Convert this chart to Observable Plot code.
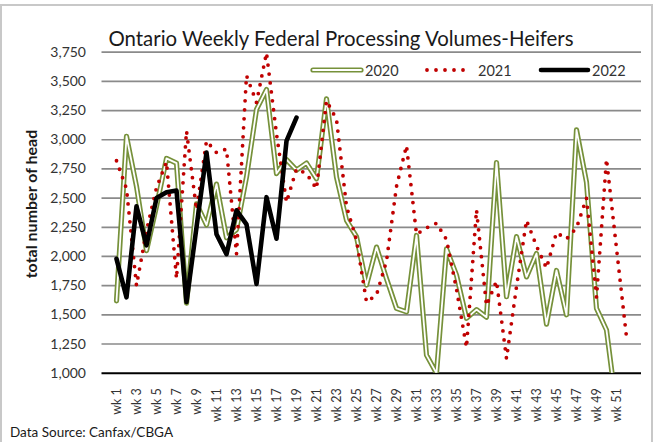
<!DOCTYPE html>
<html>
<head>
<meta charset="utf-8">
<script src="https://cdn.jsdelivr.net/npm/d3@7"></script>
<script src="https://cdn.jsdelivr.net/npm/@observablehq/plot@0.6"></script>
<style>
html, body { margin: 0; padding: 0; background: #fff; }
#chart { position: absolute; left: 0; top: 0; width: 658px; height: 442px; overflow: hidden; }
</style>
</head>
<body>
<div id="chart"></div>
<script>
const weeks = ["wk 1","wk 2","wk 3","wk 4","wk 5","wk 6","wk 7","wk 8","wk 9","wk 10",
  "wk 11","wk 12","wk 13","wk 14","wk 15","wk 16","wk 17","wk 18","wk 19","wk 20",
  "wk 21","wk 22","wk 23","wk 24","wk 25","wk 26","wk 27","wk 28","wk 29","wk 30",
  "wk 31","wk 32","wk 33","wk 34","wk 35","wk 36","wk 37","wk 38","wk 39","wk 40",
  "wk 41","wk 42","wk 43","wk 44","wk 45","wk 46","wk 47","wk 48","wk 49","wk 50",
  "wk 51","wk 52"];
const tickLabels = ["wk 1","wk 3","wk 5","wk 7","wk 9","wk 11","wk 13","wk 15","wk 17","wk 19",
  "wk 21","wk 23","wk 25","wk 27","wk 29","wk 31","wk 33","wk 35","wk 37","wk 39",
  "wk 41","wk 43","wk 45","wk 47","wk 49","wk 51"];
const yTicks = [1000,1250,1500,1750,2000,2250,2500,2750,3000,3250,3500,3750];
const values2020 = [1620,3030,2600,2050,2430,2840,2800,1600,2450,2270,
  2620,2160,2230,2680,3260,3430,2710,2830,2740,2800,
  2665,3350,2680,2310,2170,1755,2080,1810,1555,1525,
  2180,1155,1000,2065,1840,1470,1545,1480,2805,1655,
  2170,1825,2025,1420,1880,1500,3085,2635,1555,1370,
  700,null];
const values2021 = [2820,2580,1750,2220,2590,2810,1810,3075,2400,2990,
  2890,2920,2020,3550,3320,3745,3050,2465,2750,2710,
  2580,3335,3175,2430,2140,1610,1670,1960,2600,2950,
  2190,2245,2285,2145,1720,1220,2400,1580,1790,1125,
  1740,2310,2090,1900,2205,2150,2245,2500,1650,2835,
  2070,1310];
const values2022 = [1980,1650,2430,2095,2500,2550,2565,1610,2250,2890,
  2190,2020,2395,2275,1765,2508,2152,2990,3190];
const seriesNames = ["2020","2021","2022"];

const olive = "#76913a";
const red = "#c00000";
const font = "Lato, 'Open Sans', sans-serif";

const toRows = (vals) => vals.map((v, i) => ({week: weeks[i], value: v}));
const d2020 = toRows(values2020);
const d2021 = toRows(values2021);
const d2022 = toRows(values2022);

const chart = Plot.plot({
  width: 658,
  height: 442,
  marginLeft: 101.5,
  marginRight: 17,
  marginTop: 51.7,
  marginBottom: 69.3,
  style: {fontFamily: font, background: "transparent", overflow: "visible"},
  x: {type: "point", domain: weeks, padding: 0.5, axis: null},
  y: {domain: [1000, 3750], axis: null},
  marks: [
    Plot.ruleY(yTicks.filter(d => d > 1000), {stroke: "#8a8a8a", strokeWidth: 1.7}),
    Plot.ruleY([1000], {stroke: "#000", strokeWidth: 2}),
    Plot.axisY({ticks: yTicks, tickSize: 0, tickPadding: 16, tickFormat: d3.format(","), fontSize: 14, color: "#333", label: null}),
    Plot.axisX({ticks: tickLabels, tickSize: 0, tickRotate: -90, tickPadding: 15, fontSize: 12.5, color: "#333", label: null}),
    Plot.line(d2020, {x: "week", y: "value", stroke: olive, strokeWidth: 5.2, clip: true}),
    Plot.line(d2020, {x: "week", y: "value", stroke: "#fff", strokeWidth: 1.8, clip: true}),
    Plot.line(d2021, {x: "week", y: "value", stroke: red, strokeWidth: 3.8, strokeDasharray: "0 9", strokeLinecap: "round", clip: true}),
    Plot.line(d2022, {x: "week", y: "value", stroke: "#000", strokeWidth: 4.6, clip: true})
  ]
});

const svg = d3.select(chart);
// outer chart border
svg.append("rect").attr("x", 1).attr("y", 5).attr("width", 651).attr("height", 445)
  .attr("fill", "none").attr("stroke", "#c8c8c8").attr("stroke-width", 2);

// title
svg.append("text").attr("x", 341).attr("y", 38).attr("text-anchor", "middle")
  .attr("dominant-baseline", "central").attr("font-family", font).attr("font-size", 20.4)
  .attr("fill", "#1a1a1a").text("Ontario Weekly Federal Processing Volumes-Heifers");

// y axis title
svg.append("text").attr("transform", "translate(30,204) rotate(-90)")
  .attr("text-anchor", "middle").attr("dominant-baseline", "central")
  .attr("font-family", font).attr("font-size", 16).attr("font-weight", "bold")
  .attr("fill", "#1a1a1a").text("total number of head");

// source
svg.append("text").attr("x", 10).attr("y", 432).attr("text-anchor", "start").attr("dominant-baseline", "central")
  .attr("font-family", font).attr("font-size", 13.5).attr("fill", "#1a1a1a")
  .text("Data Source: Canfax/CBGA");

// legend
const leg = svg.append("g");
const ly = 70;
leg.append("line").attr("x1", 313).attr("x2", 361).attr("y1", ly).attr("y2", ly)
  .attr("stroke", olive).attr("stroke-width", 5.2).attr("stroke-linecap", "round");
leg.append("line").attr("x1", 313).attr("x2", 361).attr("y1", ly).attr("y2", ly)
  .attr("stroke", "#fff").attr("stroke-width", 1.8).attr("stroke-linecap", "round");
leg.append("line").attr("x1", 427).attr("x2", 472).attr("y1", ly).attr("y2", ly)
  .attr("stroke", red).attr("stroke-width", 3.8).attr("stroke-dasharray", "0 9").attr("stroke-linecap", "round");
leg.append("line").attr("x1", 541).attr("x2", 588).attr("y1", ly).attr("y2", ly)
  .attr("stroke", "#000").attr("stroke-width", 4.6).attr("stroke-linecap", "round");
const legX = [365, 478, 592];
seriesNames.forEach((name, i) => {
  leg.append("text").attr("x", legX[i]).attr("y", ly).attr("text-anchor", "start").attr("dominant-baseline", "central")
    .attr("font-family", font).attr("font-size", 14.5).attr("fill", "#333").text(name);
});

document.getElementById("chart").appendChild(chart);
</script>
</body>
</html>
